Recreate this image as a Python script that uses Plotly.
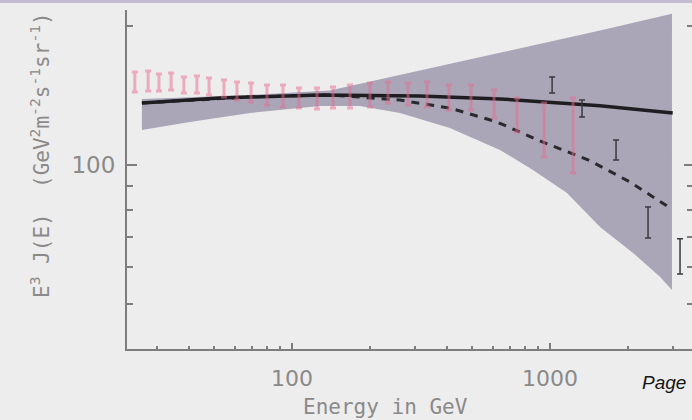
import plotly.graph_objects as go
import numpy as np

# ---------------- data ----------------
# shaded uncertainty band (upper edge left->right, lower edge right->left)
band_upper_E = [26.2, 68.8, 140, 262, 640, 1563, 2970]
band_upper_F = [139.0, 141.8, 144.9, 156.6, 175.0, 195.5, 212.4]
band_lower_E = [2970, 2668, 2099, 1563, 1164, 859, 640, 409, 262, 183.3, 128.4, 68.8, 40.2, 26.2]
band_lower_F = [53.6, 57.3, 64.5, 73.4, 87.0, 97.5, 107.8, 120.3, 129.6, 134.2, 134.2, 129.6, 123.9, 119.0]

# solid model curve
solid_E = [26.2, 52.5, 128, 313, 640, 1563, 2990]
solid_F = [136.2, 139.7, 141.8, 141.1, 139.0, 134.3, 129.6]

# dashed model curve
dashed_E = [26.2, 68.8, 140, 262, 409, 623, 938, 1410, 2040, 2920]
dashed_F = [136.2, 140.4, 141.8, 138.2, 132.8, 123.9, 112.1, 102.5, 91.9, 80.7]

# red data points (error bar low / high)
red_E = [24.6, 27.7, 30.5, 34.0, 38.1, 42.8, 47.7, 54.5, 61.2, 69.4, 80.0, 92.3, 106.4,
         125.0, 144.2, 167.8, 200.6, 235.6, 281.6, 333.7, 406, 494, 607, 745, 948, 1228]
red_lo = [143.9, 144.6, 144.6, 145.3, 143.2, 143.2, 141.8, 140.4, 138.3, 136.9, 134.9, 133.5, 132.9,
          132.2, 132.9, 132.9, 133.5, 136.2, 134.9, 133.5, 131.5, 131.5, 126.4, 117.9, 104.1, 96.1]
red_hi = [158.9, 159.7, 157.4, 158.2, 155.0, 155.8, 154.3, 152.8, 151.2, 150.5, 149.0, 149.0, 146.8,
          146.8, 147.5, 149.0, 150.5, 151.2, 150.5, 151.2, 149.0, 149.0, 145.3, 139.6, 136.2, 139.6]

# black data points (error bar low / high)
blk_E = [1019, 1331, 1803, 2399, 3192]
blk_lo = [143.1, 127.0, 102.5, 69.5, 58.1]
blk_hi = [155.0, 138.3, 113.3, 81.1, 69.2]

x_major = [100, 1000]
x_major_text = ["100", "1000"]
x_minor = [30, 40, 50, 60, 70, 80, 90, 200, 300, 400, 500, 600, 700, 800, 900, 2000, 3000]
y_major = [100]
y_major_text = ["100"]
y_minor = [50, 60, 70, 80, 90, 200]

# ---------------- figure ----------------
BG = "#eeeded"
AX = "#7d7d7d"
TXT = "#8a8a8a"

fig = go.Figure()

fig.add_trace(go.Scatter(
    x=band_upper_E + band_lower_E, y=band_upper_F + band_lower_F,
    fill="toself", fillcolor="#aaa6b8", line=dict(width=0), mode="lines",
    hoverinfo="skip", showlegend=False))

fig.add_trace(go.Scatter(x=dashed_E, y=dashed_F, mode="lines",
                         line=dict(color="#2a2a2e", width=3, dash="8px,7px"),
                         showlegend=False))
fig.add_trace(go.Scatter(x=solid_E, y=solid_F, mode="lines",
                         line=dict(color="#1e1e22", width=3.5), showlegend=False))

red_mid = [np.sqrt(a * b) for a, b in zip(red_lo, red_hi)]
fig.add_trace(go.Scatter(
    x=red_E, y=red_mid, mode="markers", marker=dict(size=1, color="rgba(0,0,0,0)"),
    error_y=dict(type="data", symmetric=False,
                 array=[h - m for h, m in zip(red_hi, red_mid)],
                 arrayminus=[m - l for m, l in zip(red_mid, red_lo)],
                 color="rgba(232,105,140,0.5)", thickness=3, width=3),
    showlegend=False))

blk_mid = [np.sqrt(a * b) for a, b in zip(blk_lo, blk_hi)]
fig.add_trace(go.Scatter(
    x=blk_E, y=blk_mid, mode="markers", marker=dict(size=1, color="rgba(0,0,0,0)"),
    error_y=dict(type="data", symmetric=False,
                 array=[h - m for h, m in zip(blk_hi, blk_mid)],
                 arrayminus=[m - l for m, l in zip(blk_mid, blk_lo)],
                 color="#3a3a3e", thickness=1.5, width=3),
    showlegend=False))

# invisible trace for right-hand tick axis
fig.add_trace(go.Scatter(x=[100], y=[100], yaxis="y2", mode="markers",
                         marker=dict(size=1, color="rgba(0,0,0,0)"), showlegend=False,
                         hoverinfo="skip"))

xr = [1.3605, 3.5504]
yr = [1.6017, 2.3355]

fig.update_layout(
    width=692, height=420,
    margin=dict(l=127, r=0, t=10, b=71),
    paper_bgcolor=BG, plot_bgcolor=BG,
    xaxis=dict(type="log", range=xr, showgrid=False, zeroline=False,
               showline=True, linecolor=AX, linewidth=2,
               tickmode="array", tickvals=x_major, ticktext=x_major_text,
               ticks="inside", ticklen=6, tickwidth=1.5, tickcolor=AX,
               ticklabelstandoff=9,
               tickfont=dict(family="DejaVu Sans", size=22, color=TXT),
               minor=dict(tickmode="array", tickvals=x_minor, ticks="inside",
                          ticklen=3, tickwidth=1.5, tickcolor=AX, showgrid=False)),
    yaxis=dict(type="log", range=yr, showgrid=False, zeroline=False,
               showline=True, linecolor=AX, linewidth=2,
               tickmode="array", tickvals=y_major, ticktext=y_major_text,
               ticks="inside", ticklen=10, tickwidth=1.5, tickcolor=AX,
               ticklabelstandoff=5,
               tickfont=dict(family="DejaVu Sans", size=23, color=TXT),
               minor=dict(tickmode="array", tickvals=y_minor, ticks="inside",
                          ticklen=6, tickwidth=1.5, tickcolor=AX, showgrid=False)),
    yaxis2=dict(type="log", range=yr, overlaying="y", side="right", anchor="x",
                showgrid=False, zeroline=False, showline=False,
                tickmode="array", tickvals=y_major, showticklabels=False,
                ticks="inside", ticklen=8, tickwidth=1.5, tickcolor=AX,
                minor=dict(tickmode="array", tickvals=y_minor, ticks="inside",
                           ticklen=5, tickwidth=1.5, tickcolor=AX, showgrid=False)),
)

# top lilac stripe of the slide
fig.add_shape(type="rect", xref="paper", yref="paper",
              x0=-0.3, x1=1.05, y0=1.021, y1=1.04, fillcolor="#c3bcd0",
              line=dict(width=0), layer="above")

fig.add_annotation(text="Energy in GeV", xref="paper", yref="paper",
                   x=0.458, y=-0.171, xanchor="center", yanchor="middle",
                   showarrow=False, font=dict(family="DejaVu Sans Mono", size=21, color=TXT))

fig.add_annotation(text="E<sup>3</sup> J(E)\u00a0\u00a0(GeV<sup>2</sup>m<sup>-2</sup>s<sup>-1</sup>sr<sup>-1</sup>)",
                   xref="paper", yref="paper", x=-0.154, y=0.1445,
                   xanchor="center", yanchor="bottom", textangle=-90,
                   showarrow=False, font=dict(family="DejaVu Sans Mono", size=21, color=TXT))

fig.add_annotation(text="<i>Page</i>", xref="paper", yref="paper",
                   x=0.908, y=-0.100, xanchor="left", yanchor="middle",
                   showarrow=False, font=dict(family="Liberation Sans", size=19, color="#151515"))

fig.write_html("out.html")
